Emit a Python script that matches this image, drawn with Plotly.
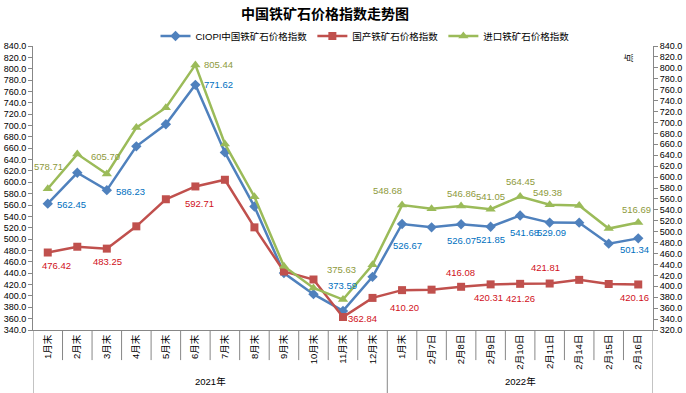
import plotly.graph_objects as go

# ---------------- data ----------------
categories = ["1月末", "2月末", "3月末", "4月末", "5月末", "6月末", "7月末", "8月末",
              "9月末", "10月末", "11月末", "12月末",
              "1月末", "2月7日", "2月8日", "2月9日", "2月10日", "2月11日", "2月14日",
              "2月15日", "2月16日"]
year_groups = ["2021年", "2022年"]
group_sizes = [12, 9]

ciopi = [562.45, 616.8, 586.23, 663.3, 702.2, 771.62, 652.7, 557.3, 440.2, 403.1,
         373.59, 433.6, 526.67, 520.7, 526.07, 521.85, 541.68, 529.09, 529.0, 492.0, 501.34]
domestic = [476.42, 486.6, 483.25, 522.5, 570.2, 592.71, 604.5, 520.7, 443.0, 428.9,
            362.84, 396.5, 410.20, 411.0, 416.08, 420.31, 421.26, 421.81, 428.3, 421.0, 420.16]
imported = [578.71, 642.1, 605.70, 690.6, 727.0, 805.44, 660.6, 564.0, 436.7, 396.9,
            375.63, 439.3, 548.68, 541.8, 546.86, 541.05, 564.45, 549.38, 548.0, 505.7, 516.69]

series_names = ["CIOPI中国铁矿石价格指数", "国产铁矿石价格指数", "进口铁矿石价格指数"]

left_ticks = list(range(340, 841, 20))
right_ticks = list(range(320, 841, 20))

# label placement (index: (dx, dy) in pixels, dy positive = down)
blue_lbl = {0: (24, 1), 2: (24, 1), 5: (23, 0), 10: (-1, -25), 12: (5, 22), 14: (0, 16),
            15: (0, 13), 16: (4, 17), 17: (2, 10), 20: (-4, 11)}
green_lbl = {0: (1, -22), 2: (-1, -17), 5: (23, 0), 10: (-2, -30), 12: (-15, -15),
             14: (0, -13), 15: (0, -13), 16: (0, -15), 17: (-2, -12), 20: (-2, -13)}
red_lbl = {0: (9, 13), 2: (1, 13), 5: (4, 17), 10: (19, 1), 12: (2, 17), 14: (-1, -14),
           15: (-2, 13), 16: (0, 15), 17: (-4, -16), 20: (-4, 13)}

FONT = "Liberation Sans, Arial, Noto Sans CJK SC, sans-serif"
AXIS_COLOR = "#878787"

xs = list(range(len(categories)))

fig = go.Figure()
fig.add_trace(go.Scatter(x=xs, y=ciopi, name=series_names[0], mode="lines+markers",
                         line=dict(color="#4F81BD", width=2.5),
                         marker=dict(symbol="diamond", size=8, color="#4F81BD")))
fig.add_trace(go.Scatter(x=xs, y=domestic, name=series_names[1], mode="lines+markers",
                         line=dict(color="#C0504D", width=2.5),
                         marker=dict(symbol="square", size=8, color="#C0504D")))
fig.add_trace(go.Scatter(x=xs, y=imported, name=series_names[2], mode="lines+markers",
                         yaxis="y2",
                         line=dict(color="#9BBB59", width=2.5),
                         marker=dict(symbol="triangle-up", size=9, color="#9BBB59")))

annotations = []
for vals, lbl, color, yref in [(ciopi, blue_lbl, "#0070C0", "y"),
                               (imported, green_lbl, "#8E9A3C", "y2"),
                               (domestic, red_lbl, "#D0101A", "y")]:
    for i, (dx, dy) in lbl.items():
        annotations.append(dict(x=xs[i], y=vals[i], xref="x", yref=yref,
                                text=f"{vals[i]:.2f}", showarrow=False,
                                xshift=dx, yshift=-dy,
                                font=dict(size=9.5, color=color, family=FONT)))

# year labels
start = 0
for g, n in zip(year_groups, group_sizes):
    annotations.append(dict(x=start + (n - 1) / 2, y=-0.183, xref="x", yref="paper",
                            text=g, showarrow=False, yanchor="middle",
                            font=dict(size=9.5, color="#000000", family=FONT)))
    start += n

# unit label on right axis
annotations.append(dict(x=0.973, y=0.98, xref="paper", yref="paper", text="点",
                        showarrow=False, textangle=-90,
                        font=dict(size=9, color="#000000", family=FONT)))

# category dividers
shapes = []
boundaries = {-0.5, 20.5}
acc = -0.5
for n in group_sizes:
    acc += n
    boundaries.add(acc)
for k in range(len(categories) + 1):
    xv = k - 0.5
    y0 = -0.222 if xv in boundaries else -0.106
    shapes.append(dict(type="line", xref="x", yref="paper", x0=xv, x1=xv, y0=0, y1=y0,
                       line=dict(color=AXIS_COLOR, width=1)))

fig.update_layout(
    width=686, height=393,
    margin=dict(l=33, r=33, t=46, b=63, autoexpand=False),
    paper_bgcolor="white", plot_bgcolor="white",
    title=dict(text="<b>中国铁矿石价格指数走势图</b>", x=325 / 686, xanchor="center",
               y=1 - 14 / 393, yanchor="middle", yref="container",
               font=dict(size=14, color="#000000", family=FONT)),
    showlegend=True,
    legend=dict(orientation="h", x=365 / 686, xanchor="center", xref="container",
                y=1 - 36 / 393, yanchor="middle", yref="container",
                font=dict(size=9.5, color="#000000", family=FONT),
                bgcolor="rgba(0,0,0,0)", itemwidth=30, tracegroupgap=0),
    xaxis=dict(range=[-0.5, len(categories) - 0.5], tickmode="array", tickvals=xs,
               ticktext=categories, tickangle=-90, showgrid=False, zeroline=False,
               showline=True, linecolor=AXIS_COLOR, linewidth=1, ticks="",
               automargin=False,
               tickfont=dict(size=9.5, color="#000000", family=FONT)),
    yaxis=dict(range=[340, 840], tickmode="array", tickvals=left_ticks,
               ticktext=[f"{v:.1f}" for v in left_ticks], showgrid=False, zeroline=False,
               showline=True, linecolor=AXIS_COLOR, linewidth=1, ticks="outside",
               ticklen=4, tickcolor=AXIS_COLOR, automargin=False,
               tickfont=dict(size=9, color="#000000", family=FONT)),
    yaxis2=dict(range=[320, 840], overlaying="y", side="right", tickmode="array",
                tickvals=right_ticks, ticktext=[f"{v:.1f}" for v in right_ticks],
                showgrid=False, zeroline=False, showline=True, linecolor=AXIS_COLOR,
                linewidth=1, ticks="outside", ticklen=4, tickcolor=AXIS_COLOR,
                automargin=False,
                tickfont=dict(size=9, color="#000000", family=FONT)),
    annotations=annotations,
    shapes=shapes,
)

fig.write_html("out.html", config={"displayModeBar": False},
               post_script="document.body.style.margin='0';document.body.style.overflow='hidden';")
